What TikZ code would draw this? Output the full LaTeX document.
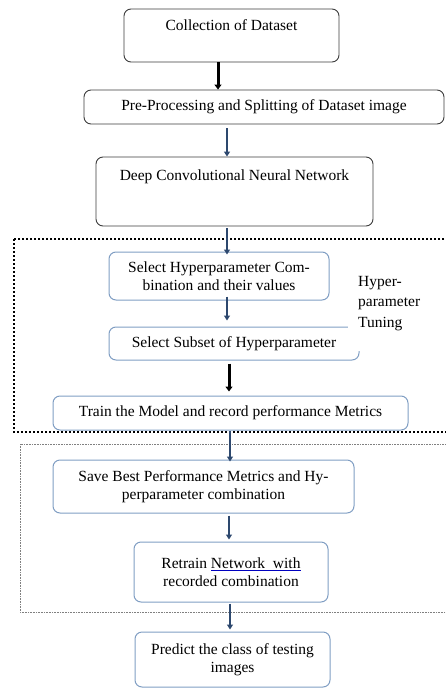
\documentclass[tikz,border=0pt]{standalone}
\usepackage{fontspec}
\setmainfont{Liberation Serif}
\usetikzlibrary{arrows.meta}
\definecolor{boxedge}{RGB}{60,60,60}
\definecolor{tuneedge}{RGB}{128,158,195}
\definecolor{shaft}{RGB}{45,72,110}
\begin{document}
\begin{tikzpicture}[x=1pt, y=-1pt, font=\fontsize{15.5}{18}\selectfont,
  plainbox/.style={draw=boxedge, line width=0.9pt, rounded corners=7pt, align=center, inner sep=0pt},
  tunebox/.style={draw=tuneedge, line width=1pt, rounded corners=7pt, align=center, inner sep=0pt},
  heavy/.style={line width=3pt, -{Triangle[length=5pt, width=7pt]}},
  flow/.style={draw=shaft, line width=2.4pt, -{Triangle[length=5pt, width=6pt]}}]
  \useasboundingbox (0,0) rectangle (446,688);
  \draw[line width=2pt, dash pattern=on 2pt off 2pt] (14,239) rectangle (452,432);
  \draw[gray, line width=0.6pt, dash pattern=on 0.8pt off 0.8pt] (20,444) rectangle (452,612);
  \node[plainbox, minimum width=215pt, minimum height=53pt] (collect) at (231.5,35.5) {Collection of Dataset\\[2pt]\mbox{}};
  \node[plainbox, minimum width=360pt, minimum height=34pt] (prep) at (264,107) {Pre-Processing and Splitting of Dataset image};
  \node[plainbox, minimum width=277pt, minimum height=69pt] (deep) at (234.5,191.5) {Deep Convolutional Neural Network\\[15pt]\mbox{}};
  \node[tunebox, minimum width=220pt, minimum height=48pt] (combo) at (219,276) {Select Hyperparameter Com-\\bination and their values};
  \node[tunebox, minimum width=250pt, minimum height=33pt] (subset) at (234,343.5) {Select Subset of Hyperparameter};
  \node[fill=white, align=left, inner xsep=10pt, inner ysep=4pt, text depth=20pt, anchor=north west,
    font=\fontsize{15.5}{20.5}\selectfont] (tunelabel) at (348,272) {Hyper-\\parameter\\Tuning};
  \node[tunebox, minimum width=355pt, minimum height=34pt] (train) at (230.5,413) {Train the Model and record performance Metrics};
  \node[tunebox, minimum width=301pt, minimum height=53pt] (save) at (203.5,486.5) {Save Best Performance Metrics and Hy-\\perparameter combination};
  \node[tunebox, minimum width=194pt, minimum height=60pt] (retrain) at (231,572) {Retrain {\color{blue!75!black}\underline{\color{black}Network~~with}}\\recorded combination};
  \node[tunebox, minimum width=195pt, minimum height=55pt] (predict) at (232.5,659.5) {Predict the class of testing\\images};
  \coordinate (spine) at (227,0);
  \draw[heavy] ([xshift=-13.5pt]collect.south) -- ([xshift=-13.5pt]collect.south |- prep.north);
  \draw[flow] ([yshift=-4pt]prep.south -| spine) -- (deep.north -| spine);
  \draw[flow] ([yshift=-2pt]deep.south -| spine) -- ([yshift=-3pt]combo.north -| spine);
  \draw[flow] ([yshift=4pt]combo.south -| spine) -- ([yshift=6pt]subset.north -| spine);
  \draw[heavy] ([yshift=-3pt,xshift=2pt]subset.south -| spine) -- ([yshift=4pt,xshift=2pt]train.north -| spine);
  \draw[flow] ([xshift=3pt]train.south -| spine) -- ([yshift=-2pt,xshift=3pt]save.north -| spine);
  \draw[flow] ([yshift=-2pt,xshift=2pt]save.south -| spine) -- ([yshift=2pt,xshift=2pt]retrain.north -| spine);
  \draw[flow] ([yshift=-1pt,xshift=3pt]retrain.south -| spine) -- ([yshift=2pt,xshift=3pt]predict.north -| spine);
\end{tikzpicture}
\end{document}
